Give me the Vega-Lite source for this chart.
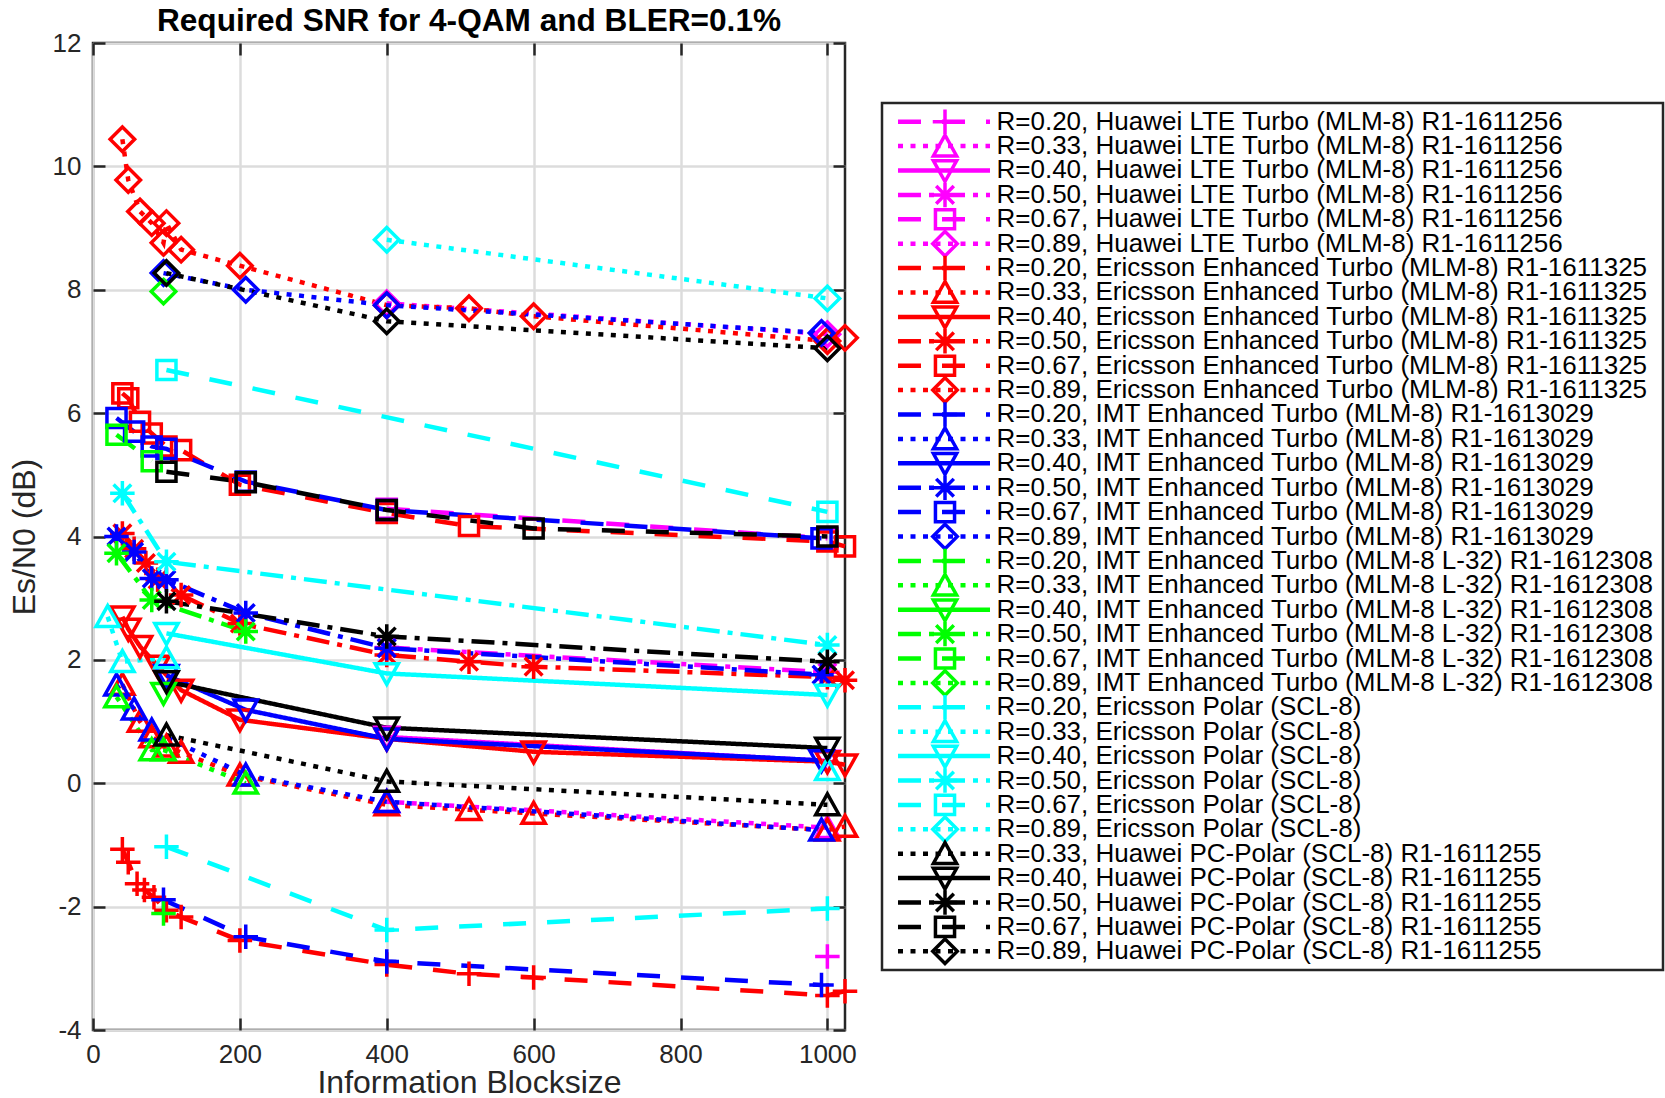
{
"$schema": "https://vega.github.io/schema/vega-lite/v6.json",
"background": "white",
"padding": {"left": 6, "top": 5, "right": 0, "bottom": 0},
"spacing": 14,
"config": {
  "view": {"stroke": "#262626", "strokeWidth": 2.5},
  "font": "Liberation Sans",
  "axis": {"labelFont": "Liberation Sans", "titleFont": "Liberation Sans", "labelFontSize": 26, "titleFontSize": 32, "titleFontWeight": "normal", "labelColor": "#262626", "titleColor": "#262626", "tickColor": "#262626", "tickWidth": 2.5, "gridColor": "#dcdcdc", "gridWidth": 2.5, "domain": false, "labelFlush": false, "labelExpr": "'' + datum.value"}
},
"datasets": {
  "pts": [
    {"c":"HT","r":"0.20","x":1000,"y":-2.81},
    {"c":"HT","r":"0.33","x":400,"y":-0.30},{"c":"HT","r":"0.33","x":1000,"y":-0.72},
    {"c":"HT","r":"0.40","x":400,"y":0.75},{"c":"HT","r":"0.40","x":1000,"y":0.36},
    {"c":"HT","r":"0.50","x":400,"y":2.20},{"c":"HT","r":"0.50","x":1000,"y":1.80},
    {"c":"HT","r":"0.67","x":400,"y":4.45},{"c":"HT","r":"0.67","x":1000,"y":3.97},
    {"c":"HT","r":"0.89","x":400,"y":7.78},{"c":"HT","r":"0.89","x":1000,"y":7.28},

    {"c":"ET","r":"0.20","x":40,"y":-1.07},{"c":"ET","r":"0.20","x":48,"y":-1.28},{"c":"ET","r":"0.20","x":60,"y":-1.63},{"c":"ET","r":"0.20","x":70,"y":-1.73},{"c":"ET","r":"0.20","x":83,"y":-1.85},{"c":"ET","r":"0.20","x":100,"y":-2.06},{"c":"ET","r":"0.20","x":120,"y":-2.17},{"c":"ET","r":"0.20","x":200,"y":-2.55},{"c":"ET","r":"0.20","x":400,"y":-2.94},{"c":"ET","r":"0.20","x":512,"y":-3.09},{"c":"ET","r":"0.20","x":600,"y":-3.15},{"c":"ET","r":"0.20","x":1000,"y":-3.44},{"c":"ET","r":"0.20","x":1024,"y":-3.37},
    {"c":"ET","r":"0.33","x":40,"y":1.6},{"c":"ET","r":"0.33","x":64,"y":1.0},{"c":"ET","r":"0.33","x":80,"y":0.75},{"c":"ET","r":"0.33","x":100,"y":0.6},{"c":"ET","r":"0.33","x":120,"y":0.5},{"c":"ET","r":"0.33","x":200,"y":0.13},{"c":"ET","r":"0.33","x":400,"y":-0.35},{"c":"ET","r":"0.33","x":512,"y":-0.43},{"c":"ET","r":"0.33","x":600,"y":-0.49},{"c":"ET","r":"0.33","x":1000,"y":-0.76},{"c":"ET","r":"0.33","x":1024,"y":-0.70},
    {"c":"ET","r":"0.40","x":40,"y":2.70},{"c":"ET","r":"0.40","x":48,"y":2.5},{"c":"ET","r":"0.40","x":64,"y":2.22},{"c":"ET","r":"0.40","x":88,"y":1.9},{"c":"ET","r":"0.40","x":120,"y":1.51},{"c":"ET","r":"0.40","x":200,"y":1.03},{"c":"ET","r":"0.40","x":400,"y":0.72},{"c":"ET","r":"0.40","x":600,"y":0.51},{"c":"ET","r":"0.40","x":1000,"y":0.35},{"c":"ET","r":"0.40","x":1024,"y":0.30},
    {"c":"ET","r":"0.50","x":40,"y":4.05},{"c":"ET","r":"0.50","x":56,"y":3.8},{"c":"ET","r":"0.50","x":72,"y":3.57},{"c":"ET","r":"0.50","x":88,"y":3.3},{"c":"ET","r":"0.50","x":120,"y":3.05},{"c":"ET","r":"0.50","x":200,"y":2.59},{"c":"ET","r":"0.50","x":400,"y":2.08},{"c":"ET","r":"0.50","x":512,"y":1.97},{"c":"ET","r":"0.50","x":600,"y":1.89},{"c":"ET","r":"0.50","x":1000,"y":1.72},{"c":"ET","r":"0.50","x":1024,"y":1.67},
    {"c":"ET","r":"0.67","x":40,"y":6.32},{"c":"ET","r":"0.67","x":48,"y":6.24},{"c":"ET","r":"0.67","x":64,"y":5.86},{"c":"ET","r":"0.67","x":80,"y":5.67},{"c":"ET","r":"0.67","x":100,"y":5.46},{"c":"ET","r":"0.67","x":120,"y":5.40},{"c":"ET","r":"0.67","x":200,"y":4.84},{"c":"ET","r":"0.67","x":400,"y":4.38},{"c":"ET","r":"0.67","x":512,"y":4.17},{"c":"ET","r":"0.67","x":1000,"y":3.92},{"c":"ET","r":"0.67","x":1024,"y":3.84},
    {"c":"ET","r":"0.89","x":40,"y":10.44},{"c":"ET","r":"0.89","x":48,"y":9.78},{"c":"ET","r":"0.89","x":64,"y":9.27},{"c":"ET","r":"0.89","x":80,"y":9.08},{"c":"ET","r":"0.89","x":96,"y":8.76},{"c":"ET","r":"0.89","x":100,"y":9.08},{"c":"ET","r":"0.89","x":120,"y":8.65},{"c":"ET","r":"0.89","x":200,"y":8.39},{"c":"ET","r":"0.89","x":400,"y":7.75},{"c":"ET","r":"0.89","x":512,"y":7.70},{"c":"ET","r":"0.89","x":600,"y":7.57},{"c":"ET","r":"0.89","x":1000,"y":7.17},{"c":"ET","r":"0.89","x":1024,"y":7.22},

    {"c":"IT","r":"0.20","x":96,"y":-1.89},{"c":"IT","r":"0.20","x":208,"y":-2.49},{"c":"IT","r":"0.20","x":400,"y":-2.89},{"c":"IT","r":"0.20","x":992,"y":-3.27},
    {"c":"IT","r":"0.33","x":32,"y":1.59},{"c":"IT","r":"0.33","x":56,"y":1.2},{"c":"IT","r":"0.33","x":80,"y":0.86},{"c":"IT","r":"0.33","x":208,"y":0.13},{"c":"IT","r":"0.33","x":400,"y":-0.30},{"c":"IT","r":"0.33","x":992,"y":-0.76},
    {"c":"IT","r":"0.40","x":100,"y":1.75},{"c":"IT","r":"0.40","x":208,"y":1.19},{"c":"IT","r":"0.40","x":400,"y":0.72},{"c":"IT","r":"0.40","x":992,"y":0.37},
    {"c":"IT","r":"0.50","x":32,"y":4.0},{"c":"IT","r":"0.50","x":56,"y":3.75},{"c":"IT","r":"0.50","x":80,"y":3.32},{"c":"IT","r":"0.50","x":100,"y":3.30},{"c":"IT","r":"0.50","x":208,"y":2.76},{"c":"IT","r":"0.50","x":400,"y":2.19},{"c":"IT","r":"0.50","x":992,"y":1.76},
    {"c":"IT","r":"0.67","x":32,"y":5.92},{"c":"IT","r":"0.67","x":56,"y":5.70},{"c":"IT","r":"0.67","x":80,"y":5.46},{"c":"IT","r":"0.67","x":100,"y":5.42},{"c":"IT","r":"0.67","x":208,"y":4.89},{"c":"IT","r":"0.67","x":400,"y":4.43},{"c":"IT","r":"0.67","x":992,"y":3.97},
    {"c":"IT","r":"0.89","x":96,"y":8.27},{"c":"IT","r":"0.89","x":208,"y":8.0},{"c":"IT","r":"0.89","x":400,"y":7.75},{"c":"IT","r":"0.89","x":992,"y":7.30},

    {"c":"IL","r":"0.20","x":96,"y":-2.11},
    {"c":"IL","r":"0.33","x":32,"y":1.40},{"c":"IL","r":"0.33","x":80,"y":0.54},{"c":"IL","r":"0.33","x":96,"y":0.54},{"c":"IL","r":"0.33","x":208,"y":0.0},
    {"c":"IL","r":"0.40","x":96,"y":1.46},
    {"c":"IL","r":"0.50","x":32,"y":3.73},{"c":"IL","r":"0.50","x":80,"y":2.97},{"c":"IL","r":"0.50","x":208,"y":2.46},
    {"c":"IL","r":"0.67","x":32,"y":5.65},{"c":"IL","r":"0.67","x":80,"y":5.22},
    {"c":"IL","r":"0.89","x":96,"y":7.97},

    {"c":"EP","r":"0.20","x":100,"y":-1.03},{"c":"EP","r":"0.20","x":400,"y":-2.38},{"c":"EP","r":"0.20","x":1000,"y":-2.03},
    {"c":"EP","r":"0.33","x":20,"y":2.70},{"c":"EP","r":"0.33","x":40,"y":1.97},{"c":"EP","r":"0.33","x":100,"y":2.03},{"c":"EP","r":"0.33","x":1000,"y":0.22,"g":1},
    {"c":"EP","r":"0.40","x":100,"y":2.43},{"c":"EP","r":"0.40","x":400,"y":1.78},{"c":"EP","r":"0.40","x":1000,"y":1.43},
    {"c":"EP","r":"0.50","x":40,"y":4.70},{"c":"EP","r":"0.50","x":100,"y":3.59},{"c":"EP","r":"0.50","x":1000,"y":2.24},
    {"c":"EP","r":"0.67","x":100,"y":6.70},{"c":"EP","r":"0.67","x":1000,"y":4.40},
    {"c":"EP","r":"0.89","x":400,"y":8.81},{"c":"EP","r":"0.89","x":1000,"y":7.86},

    {"c":"HP","r":"0.33","x":100,"y":0.78},{"c":"HP","r":"0.33","x":400,"y":0.03},{"c":"HP","r":"0.33","x":1000,"y":-0.35},
    {"c":"HP","r":"0.40","x":100,"y":1.65},{"c":"HP","r":"0.40","x":400,"y":0.90},{"c":"HP","r":"0.40","x":1000,"y":0.57},
    {"c":"HP","r":"0.50","x":100,"y":2.95},{"c":"HP","r":"0.50","x":400,"y":2.38},{"c":"HP","r":"0.50","x":1000,"y":1.97},
    {"c":"HP","r":"0.67","x":100,"y":5.05},{"c":"HP","r":"0.67","x":208,"y":4.88},{"c":"HP","r":"0.67","x":400,"y":4.43},{"c":"HP","r":"0.67","x":600,"y":4.13},{"c":"HP","r":"0.67","x":1000,"y":4.0},
    {"c":"HP","r":"0.89","x":100,"y":8.27},{"c":"HP","r":"0.89","x":400,"y":7.49},{"c":"HP","r":"0.89","x":1000,"y":7.05}
  ],
  "leg": [
    {"c":"HT","r":"0.20","s":"R=0.20, Huawei LTE Turbo (MLM-8) R1-1611256"},
    {"c":"HT","r":"0.33","s":"R=0.33, Huawei LTE Turbo (MLM-8) R1-1611256"},
    {"c":"HT","r":"0.40","s":"R=0.40, Huawei LTE Turbo (MLM-8) R1-1611256"},
    {"c":"HT","r":"0.50","s":"R=0.50, Huawei LTE Turbo (MLM-8) R1-1611256"},
    {"c":"HT","r":"0.67","s":"R=0.67, Huawei LTE Turbo (MLM-8) R1-1611256"},
    {"c":"HT","r":"0.89","s":"R=0.89, Huawei LTE Turbo (MLM-8) R1-1611256"},
    {"c":"ET","r":"0.20","s":"R=0.20, Ericsson Enhanced Turbo (MLM-8) R1-1611325"},
    {"c":"ET","r":"0.33","s":"R=0.33, Ericsson Enhanced Turbo (MLM-8) R1-1611325"},
    {"c":"ET","r":"0.40","s":"R=0.40, Ericsson Enhanced Turbo (MLM-8) R1-1611325"},
    {"c":"ET","r":"0.50","s":"R=0.50, Ericsson Enhanced Turbo (MLM-8) R1-1611325"},
    {"c":"ET","r":"0.67","s":"R=0.67, Ericsson Enhanced Turbo (MLM-8) R1-1611325"},
    {"c":"ET","r":"0.89","s":"R=0.89, Ericsson Enhanced Turbo (MLM-8) R1-1611325"},
    {"c":"IT","r":"0.20","s":"R=0.20, IMT Enhanced Turbo (MLM-8) R1-1613029"},
    {"c":"IT","r":"0.33","s":"R=0.33, IMT Enhanced Turbo (MLM-8) R1-1613029"},
    {"c":"IT","r":"0.40","s":"R=0.40, IMT Enhanced Turbo (MLM-8) R1-1613029"},
    {"c":"IT","r":"0.50","s":"R=0.50, IMT Enhanced Turbo (MLM-8) R1-1613029"},
    {"c":"IT","r":"0.67","s":"R=0.67, IMT Enhanced Turbo (MLM-8) R1-1613029"},
    {"c":"IT","r":"0.89","s":"R=0.89, IMT Enhanced Turbo (MLM-8) R1-1613029"},
    {"c":"IL","r":"0.20","s":"R=0.20, IMT Enhanced Turbo (MLM-8 L-32) R1-1612308"},
    {"c":"IL","r":"0.33","s":"R=0.33, IMT Enhanced Turbo (MLM-8 L-32) R1-1612308"},
    {"c":"IL","r":"0.40","s":"R=0.40, IMT Enhanced Turbo (MLM-8 L-32) R1-1612308"},
    {"c":"IL","r":"0.50","s":"R=0.50, IMT Enhanced Turbo (MLM-8 L-32) R1-1612308"},
    {"c":"IL","r":"0.67","s":"R=0.67, IMT Enhanced Turbo (MLM-8 L-32) R1-1612308"},
    {"c":"IL","r":"0.89","s":"R=0.89, IMT Enhanced Turbo (MLM-8 L-32) R1-1612308"},
    {"c":"EP","r":"0.20","s":"R=0.20, Ericsson Polar (SCL-8)"},
    {"c":"EP","r":"0.33","s":"R=0.33, Ericsson Polar (SCL-8)"},
    {"c":"EP","r":"0.40","s":"R=0.40, Ericsson Polar (SCL-8)"},
    {"c":"EP","r":"0.50","s":"R=0.50, Ericsson Polar (SCL-8)"},
    {"c":"EP","r":"0.67","s":"R=0.67, Ericsson Polar (SCL-8)"},
    {"c":"EP","r":"0.89","s":"R=0.89, Ericsson Polar (SCL-8)"},
    {"c":"HP","r":"0.33","s":"R=0.33, Huawei PC-Polar (SCL-8) R1-1611255"},
    {"c":"HP","r":"0.40","s":"R=0.40, Huawei PC-Polar (SCL-8) R1-1611255"},
    {"c":"HP","r":"0.50","s":"R=0.50, Huawei PC-Polar (SCL-8) R1-1611255"},
    {"c":"HP","r":"0.67","s":"R=0.67, Huawei PC-Polar (SCL-8) R1-1611255"},
    {"c":"HP","r":"0.89","s":"R=0.89, Huawei PC-Polar (SCL-8) R1-1611255"}
  ]
},
"hconcat": [
  {
    "width": 752, "height": 987,
    "title": {"text": "Required SNR for 4-QAM and BLER=0.1%", "font": "Liberation Sans", "fontSize": 31.6, "fontWeight": "bold", "color": "#000000", "offset": -8, "anchor": "middle"},
    "data": {"name": "pts"},
    "layer": [
      {
        "mark": {"type": "line", "strokeWidth": 4.5, "clip": false},
        "encoding": {
          "x": {"field": "x", "type": "quantitative", "scale": {"domain": [0, 1024], "nice": false, "zero": false}, "axis": {"title": "Information Blocksize", "values": [0,200,400,600,800,1000], "tickSize": -12, "labelPadding": 23, "titlePadding": 0, "labelFlush": false}},
          "y": {"field": "y", "type": "quantitative", "scale": {"domain": [-4, 12], "nice": false, "zero": false}, "axis": {"title": "Es/N0 (dB)", "values": [-4,-2,0,2,4,6,8,10,12], "tickSize": -12, "labelPadding": 24, "titlePadding": 11}},
          "color": {"field": "c", "type": "nominal", "scale": {"domain": ["HT","ET","IT","IL","EP","HP"], "range": ["#FF00FF","#FF0000","#0000FF","#00FF00","#00FFFF","#000000"]}, "legend": null},
          "strokeDash": {"field": "r", "type": "nominal", "scale": {"domain": ["0.20","0.33","0.40","0.50","0.67","0.89"], "range": [[23,21],[5,7.5],[1,0],[23,8,5,8],[23,21],[5,7.5]]}, "legend": null},
          "detail": {"field": "g", "type": "nominal"}
        }
      },
      {
        "mark": {"type": "point", "filled": false, "size": 600, "strokeWidth": 3.5, "opacity": 1, "clip": false},
        "encoding": {
          "x": {"field": "x", "type": "quantitative", "axis": {"orient": "top", "title": null, "labels": false, "grid": false, "values": [0,200,400,600,800,1000], "tickSize": -12}},
          "y": {"field": "y", "type": "quantitative", "axis": {"orient": "right", "title": null, "labels": false, "grid": false, "values": [-4,-2,0,2,4,6,8,10,12], "tickSize": -12}},
          "color": {"field": "c", "type": "nominal", "legend": null},
          "shape": {"field": "r", "type": "nominal", "scale": {"domain": ["0.20","0.33","0.40","0.50","0.67","0.89"], "range": ["M-1,0H1M0,-1V1","M0,-0.9L0.95,0.8L-0.95,0.8Z","M0,0.9L0.95,-0.8L-0.95,-0.8Z","M-1,0H1M0,-1V1M-0.72,-0.72L0.72,0.72M-0.72,0.72L0.72,-0.72","M-0.78,-0.78H0.78V0.78H-0.78Z","M0,-1L1,0L0,1L-1,0Z"]}, "legend": null}
        }
      }
    ],
    "resolve": {"axis": {"x": "independent", "y": "independent"}}
  },
  {
    "spacing": 0,
    "vconcat": [
      {
        "width": 781, "height": 58,
        "view": {"stroke": null},
        "data": {"values": [{"t": ""}]},
        "mark": {"type": "text"},
        "encoding": {"text": {"field": "t", "type": "nominal"}}
      },
      {
        "width": 781, "height": 867,
        "data": {"name": "leg"},
        "encoding": {
          "y": {"field": "s", "type": "nominal", "sort": null, "scale": {"type": "point", "padding": 0.766}, "axis": null}
        },
        "layer": [
          {
            "mark": {"type": "rule", "strokeWidth": 4.5},
            "encoding": {
              "x": {"datum": 16, "type": "quantitative", "scale": {"domain": [0, 781], "nice": false, "zero": false}, "axis": null},
              "x2": {"datum": 108},
              "color": {"field": "c", "type": "nominal", "legend": null},
              "strokeDash": {"field": "r", "type": "nominal", "legend": null}
            }
          },
          {
            "mark": {"type": "point", "filled": false, "size": 600, "strokeWidth": 3.5, "opacity": 1},
            "encoding": {
              "x": {"datum": 63, "type": "quantitative"},
              "color": {"field": "c", "type": "nominal", "legend": null},
              "shape": {"field": "r", "type": "nominal", "legend": null}
            }
          },
          {
            "mark": {"type": "text", "align": "left", "baseline": "middle", "font": "Liberation Sans", "fontSize": 26, "color": "#000000"},
            "encoding": {
              "x": {"datum": 114.5, "type": "quantitative"},
              "text": {"field": "s", "type": "nominal"}
            }
          }
        ]
      }
    ]
  }
]
}
